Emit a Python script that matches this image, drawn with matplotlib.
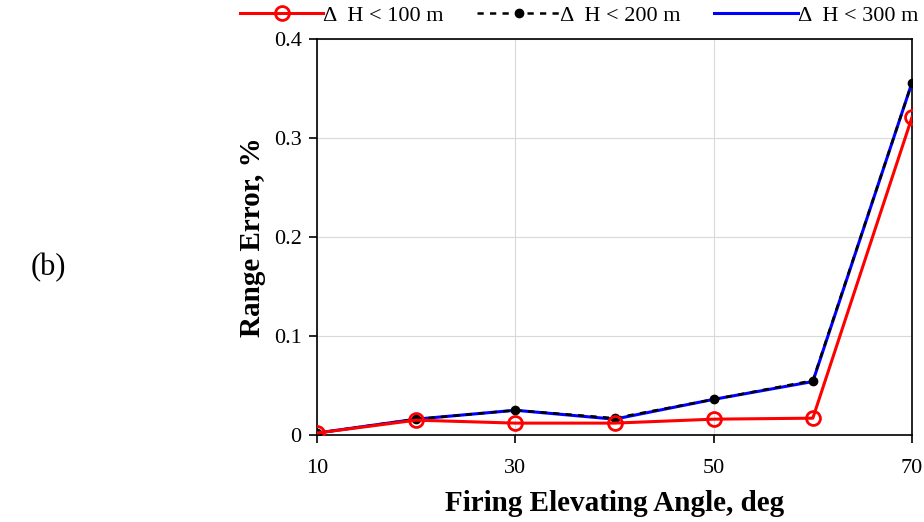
import matplotlib
matplotlib.use("Agg")
import matplotlib.pyplot as plt

plt.rcParams['font.family'] = ['Liberation Serif', 'DejaVu Serif']

angles = [10, 20, 30, 40, 50, 60, 70]
err_100 = [0.002, 0.015, 0.012, 0.012, 0.016, 0.017, 0.321]
err_200 = [0.002, 0.016, 0.025, 0.017, 0.036, 0.055, 0.356]
err_300 = [0.002, 0.016, 0.025, 0.016, 0.036, 0.054, 0.356]

fig = plt.figure(figsize=(9.24, 5.22), dpi=100)
ax = fig.add_axes([317 / 924, 1 - 435 / 522, 595 / 924, 396 / 522])

ax.plot(angles, err_300, color='blue', lw=2.2, label=u'\u0394  H < 300 m', zorder=3)
ax.plot(angles, err_200, color='black', lw=1.8, ls=(0, (2.5, 2.5)), marker='o',
        ms=6, label=u'\u0394  H < 200 m', zorder=4)
ax.plot(angles, err_100, color='red', lw=2.2, marker='o', ms=10, mfc='none',
        mew=2, label=u'\u0394  H < 100 m', zorder=5)

ax.set_xlim(10, 70)
ax.set_ylim(0, 0.4)
ax.set_xticks([10, 30, 50, 70])
ax.set_yticks([0, 0.1, 0.2, 0.3, 0.4])
ax.set_yticklabels(['0', '0.1', '0.2', '0.3', '0.4'])
ax.grid(True, color='#d9d9d9', lw=0.8)
ax.set_axisbelow(True)
ax.tick_params(labelsize=16, direction='out', length=6, width=1.2)
ax.tick_params(axis='x', pad=11)
ax.tick_params(axis='y', pad=5)
for s in ax.spines.values():
    s.set_linewidth(1.2)

ax.set_xlabel('Firing Elevating Angle, deg', fontsize=21, fontweight='bold', labelpad=9)
ax.set_ylabel('Range Error, %', fontsize=21, fontweight='bold', labelpad=6)

handles, labels = ax.get_legend_handles_labels()
order = [2, 1, 0]
fig.legend([handles[i] for i in order], [labels[i] for i in order],
           loc='center left', bbox_to_anchor=(240 / 924, 1 - 16 / 522), ncol=3,
           frameon=False, fontsize=16, handlelength=3.75, handletextpad=0.0,
           columnspacing=1.5, borderaxespad=0, borderpad=0)

fig.text(48 / 924, 1 - 268 / 522, '(b)', fontsize=22, ha='center', va='center')

fig.savefig('out.png', dpi=100)
